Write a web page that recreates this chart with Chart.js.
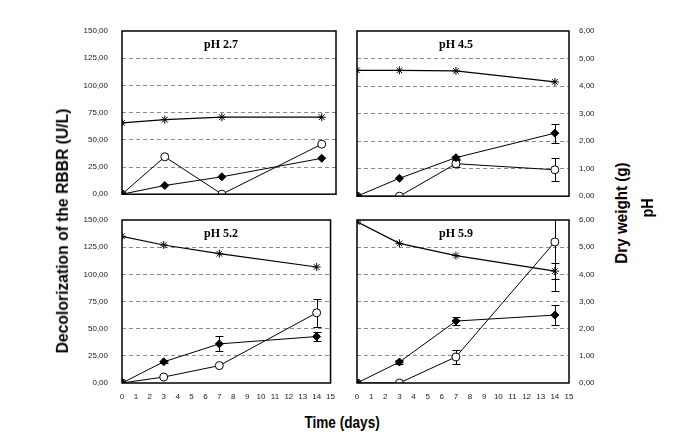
<!DOCTYPE html>
<html>
<head>
<meta charset="utf-8">
<script src="https://cdn.jsdelivr.net/npm/chart.js@4/dist/chart.umd.min.js"></script>
<style>
  body { margin: 0; background: #fff; width: 694px; height: 437px; overflow: hidden; position: relative; }
  canvas { position: absolute; }
  .lbl { position: absolute; font-family: "Liberation Sans", Arial, sans-serif; font-weight: bold; color: #000; white-space: nowrap; }
</style>
</head>
<body>
<canvas id="c27" width="284" height="208" style="left:60px;top:5px"></canvas>
<canvas id="c45" width="270" height="206" style="left:340px;top:5px"></canvas>
<canvas id="c52" width="284" height="218" style="left:60px;top:195px"></canvas>
<canvas id="c59" width="270" height="218" style="left:340px;top:195px"></canvas>

<div class="lbl" id="ytitle" style="font-size:16px;">Decolorization of the RBBR (U/L)</div>
<div class="lbl" id="dtitle" style="font-size:16px;">Dry weight (g)</div>
<div class="lbl" id="ptitle" style="font-size:16px;">pH</div>
<div class="lbl" id="xtitle" style="font-size:17px;">Time (days)</div>

<script>
// sampling days
var days = [0, 3, 7, 14];

// pH 2.7
var decol27 = [0, 34.4, 0, 46];
var dry27 = [0, 0.32, 0.64, 1.32];
var ph27 = [2.62, 2.74, 2.83, 2.83];

// pH 4.5
var decol45 = [0, 0, 29.5, 24];
var decolErr45 = [0, 0, 3, 10.5];
var dry45 = [0, 0.65, 1.4, 2.29];
var dryErr45 = [0, 0, 0.05, 0.35];
var ph45 = [4.57, 4.57, 4.55, 4.15];

// pH 5.2
var decol52 = [0, 5.5, 16, 64.6];
var decolErr52 = [0, 0, 0, 13];
var dry52 = [0, 0.78, 1.44, 1.71];
var dryErr52 = [0, 0.04, 0.28, 0.16];
var ph52 = [5.4, 5.08, 4.76, 4.27];

// pH 5.9
var decol59 = [0, 0, 24, 129.8];
var decolErr59 = [0, 0, 6.8, 45];
var dry59 = [0, 0.77, 2.28, 2.5];
var dryErr59 = [0, 0.08, 0.15, 0.36];
var ph59 = [5.93, 5.14, 4.69, 4.12];
var phErr59 = [0, 0, 0, 0.3];

function pts(arr) {
  return arr.map(function (v, i) { return { x: days[i], y: v }; });
}
function comma(v) { return Number(v).toFixed(2).replace('.', ','); }

// error bars, frame and panel title
var panelPlugin = {
  id: 'panel',
  beforeDatasetsDraw: function (chart) {
    var ctx = chart.ctx, a = chart.chartArea;
    ctx.save();
    ctx.beginPath();
    ctx.rect(a.left, a.top, a.right - a.left, a.bottom - a.top);
    ctx.clip();
    ctx.strokeStyle = '#000';
    ctx.lineWidth = 1;
    chart.data.datasets.forEach(function (ds) {
      if (!ds.errors) return;
      var ys = chart.scales[ds.yAxisID], xs = chart.scales.x;
      ds.errors.forEach(function (e, j) {
        if (!e) return;
        var px = Math.round(xs.getPixelForValue(days[j])) + 0.5;
        var v = ds.data[j].y;
        var t = Math.round(ys.getPixelForValue(v + e)) + 0.5;
        var b = Math.round(ys.getPixelForValue(v - e)) + 0.5;
        ctx.beginPath();
        ctx.moveTo(px, t); ctx.lineTo(px, b);
        ctx.moveTo(px - 4, t); ctx.lineTo(px + 4, t);
        ctx.moveTo(px - 4, b); ctx.lineTo(px + 4, b);
        ctx.stroke();
      });
    });
    ctx.restore();
  },
  afterDraw: function (chart, args, opts) {
    var ctx = chart.ctx, a = chart.chartArea;
    ctx.save();
    ctx.strokeStyle = '#000';
    ctx.lineWidth = 1.5;
    ctx.strokeRect(a.left, a.top, a.right - a.left, a.bottom - a.top);
    ctx.fillStyle = '#000';
    ctx.font = 'bold 12px "Liberation Serif", "Times New Roman", serif';
    ctx.textAlign = 'center';
    ctx.textBaseline = 'middle';
    ctx.fillText(opts.text, a.left + 99, a.top + 14);
    ctx.restore();
  }
};

function gridColor(max) {
  return function (c) {
    var v = c.tick ? c.tick.value : 0;
    return (v === 0 || v === max) ? 'rgba(0,0,0,0)' : '#8c8c8c';
  };
}

// plot: wanted plot rectangle in page pixels [left, top, right, bottom]
function makePanel(id, title, decol, dry, ph, errs, side, bottom, plot) {
  var tickFont = { family: '"Liberation Sans", Arial, sans-serif', size: 8 };
  var datasets = [
    {
      data: pts(ph), yAxisID: 'y1', errors: errs.ph,
      borderColor: '#000', borderWidth: 1.2, pointStyle: 'star',
      pointRadius: 4, pointBorderColor: '#000', pointBorderWidth: 1,
      pointBackgroundColor: '#000', tension: 0, fill: false
    },
    {
      data: pts(dry), yAxisID: 'y1', errors: errs.dry,
      borderColor: '#000', borderWidth: 1, pointStyle: 'rectRot',
      pointRadius: 4, pointBorderColor: '#000', pointBackgroundColor: '#000',
      tension: 0, fill: false
    },
    {
      data: pts(decol), yAxisID: 'y', errors: errs.decol,
      borderColor: '#000', borderWidth: 1, pointStyle: 'circle',
      pointRadius: 4, pointBorderColor: '#000', pointBorderWidth: 1,
      pointBackgroundColor: '#fff', tension: 0, fill: false
    }
  ];
  var left = side === 'left';
  var canvas = document.getElementById(id);
  var pad = { left: 0, right: 0, top: 0, bottom: 0 };
  var chart = new Chart(canvas, {
    type: 'line',
    data: { datasets: datasets },
    options: {
      responsive: false,
      animation: false,
      layout: { autoPadding: false, padding: Object.assign({}, pad) },
      plugins: { legend: { display: false }, tooltip: { enabled: false }, panel: { text: title } },
      scales: {
        x: {
          type: 'linear', min: 0, max: 15,
          grid: { display: false, drawTicks: false },
          border: { display: false },
          ticks: { display: bottom, stepSize: 1, font: tickFont, color: '#222', padding: 9, maxRotation: 0 }
        },
        y: {
          position: 'left', min: 0, max: 150, display: left,
          grid: { color: gridColor(150), drawTicks: false, lineWidth: 1 },
          border: { display: false, dash: [4, 3] },
          ticks: { stepSize: 25, font: tickFont, color: '#222', padding: 14, callback: comma }
        },
        y1: {
          position: 'right', min: 0, max: 6, display: !left,
          grid: { color: gridColor(6), drawTicks: false, lineWidth: 1 },
          border: { display: false, dash: [4, 3] },
          ticks: { stepSize: 1, font: tickFont, color: '#222', padding: 10, callback: comma }
        }
      }
    },
    plugins: [panelPlugin]
  });
  // nudge the padding until the plot area sits where the reference has it
  var ox = parseFloat(canvas.style.left), oy = parseFloat(canvas.style.top);
  for (var k = 0; k < 6; k++) {
    var a = chart.chartArea;
    pad.left += plot[0] - (ox + a.left);
    pad.top += plot[1] - (oy + a.top);
    pad.right += (ox + a.right) - plot[2];
    pad.bottom += (oy + a.bottom) - plot[3];
    chart.config.options.layout.padding = Object.assign({}, pad);
    chart.update();
  }
}

makePanel('c27', 'pH 2.7', decol27, dry27, ph27, {}, 'left', false, [122, 31, 336, 194]);
makePanel('c45', 'pH 4.5', decol45, dry45, ph45, { decol: decolErr45, dry: dryErr45 }, 'right', false, [357, 31, 569, 195]);
makePanel('c52', 'pH 5.2', decol52, dry52, ph52, { decol: decolErr52, dry: dryErr52 }, 'left', true, [122, 220, 336, 383]);
makePanel('c59', 'pH 5.9', decol59, dry59, ph59, { decol: decolErr59, dry: dryErr59, ph: phErr59 }, 'right', true, [357, 220, 569, 383]);

// place the shared axis titles around their centres
function placeRot(id, cx, cy, sx) {
  var el = document.getElementById(id);
  var w = el.offsetWidth, h = el.offsetHeight;
  el.style.left = (cx - w / 2) + 'px';
  el.style.top = (cy - h / 2) + 'px';
  el.style.transform = 'rotate(-90deg) scale(' + sx + ',1)';
}
placeRot('ytitle', 63, 231, 0.98);
placeRot('dtitle', 622, 213, 0.95);
placeRot('ptitle', 647, 208, 0.9);
var xt = document.getElementById('xtitle');
xt.style.left = (342 - xt.offsetWidth / 2) + 'px';
xt.style.top = (423 - xt.offsetHeight / 2) + 'px';
xt.style.transform = 'scale(0.8,1)';
</script>
</body>
</html>
